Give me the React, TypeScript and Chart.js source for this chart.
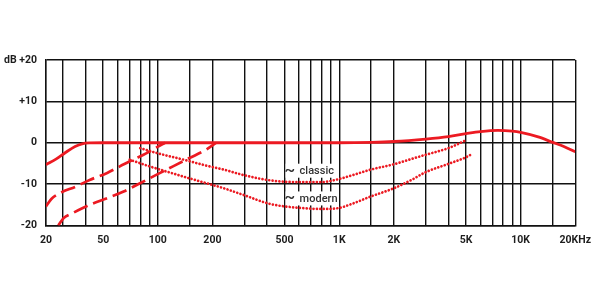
import React, { useEffect, useRef } from "react";
import { Chart, registerables } from "chart.js";

Chart.register(...registerables);

// ---- data (frequency in Hz, level in dB) ----
const solidFreq = [24.2, 27.6, 31, 35, 38.3, 42.2, 50, 1000, 1500, 2000, 3000, 4000, 5000, 6000, 7500, 9000, 10000, 12500, 15000, 17300, 20000];
const solidDb = [-5.3, -3.9, -2.35, -0.9, -0.25, -0.05, 0, 0, 0.1, 0.3, 0.9, 1.5, 2.2, 2.7, 3.0, 2.8, 2.5, 1.4, 0.1, -0.9, -2.2];

const cut1Freq = [24.2, 25.9, 28.8, 35.3, 42.1, 52.6, 61.8, 73.2, 86.8, 98.6, 109.6];
const cut1Db = [-15.4, -13.6, -12.2, -10.6, -9.0, -7.3, -5.7, -4.1, -2.5, -1.1, 0];

const cut2Freq = [28.3, 30.3, 34, 42.1, 52.6, 64.8, 79.8, 98.6, 121.3, 149.4, 184, 210];
const cut2Db = [-20, -18.2, -17, -15, -13.4, -11.8, -9.8, -7.7, -5.7, -3.7, -1.7, 0];

const classicFreq = [80, 99, 139, 184, 231, 296, 417, 588, 800, 950, 1170, 1490, 2000, 2600, 3000, 4000, 5000];
const classicDb = [-1.3, -2.5, -4.1, -5.5, -6.5, -7.8, -9.1, -9.5, -9.5, -9.0, -7.9, -6.5, -5.2, -3.7, -2.9, -1.3, 0.6];

const modernFreq = [70, 90, 139, 200, 231, 296, 417, 588, 800, 987, 1170, 1490, 2000, 2500, 3000, 4000, 5000, 5300];
const modernDb = [-4.1, -5.7, -8.2, -10.2, -11, -12.6, -14.8, -15.7, -16, -15.8, -14.8, -13, -11, -9, -7.1, -5.1, -3.5, -2.9];

// ---- axes ----
const xMinHz = 24.2;
const xMaxHz = 20000;
const gridFreqs = [30, 40, 50, 60, 70, 80, 90, 100, 150, 200, 300, 400, 500, 600, 700, 800, 900, 1000, 1500, 2000, 3000, 4000, 5000, 6000, 7000, 8000, 9000, 10000, 15000, 20000];
const xTickValues = [24.2, 50, 100, 200, 500, 1000, 2000, 5000, 10000, 20000];
const xTickLabels = ["20", "50", "100", "200", "500", "1K", "2K", "5K", "10K", "20KHz"];
const yTickValues = [20, 10, 0, -10, -20];
const yTickLabels = ["+20", "+10", "0", "-10", "-20"];
const yUnit = "dB";

// curve labels: [text, freq anchor, dB anchor]
const curveLabels: [string, number, number][] = [
  ["classic", 605, -7.0],
  ["modern", 605, -13.7],
];

const RED = "#ec1a22";
const INK = "#1e1e1e";
const FONT = "Roboto";

const toPts = (f: number[], d: number[]) => f.map((x, i) => ({ x, y: d[i] }));

export default function App() {
  const ref = useRef<HTMLCanvasElement | null>(null);

  useEffect(() => {
    if (!ref.current) return;
    const labelPlugin = {
      id: "curveLabels",
      beforeDatasetsDraw(chart: any) {
        const { ctx, scales } = chart;
        const xs = scales.x;
        const ys = scales.y;
        ctx.save();
        for (const [text, f, db] of curveLabels) {
          const x = xs.getPixelForValue(f);
          const y = ys.getPixelForValue(db);
          ctx.fillStyle = "#ffffff";
          ctx.fillRect(x - 14, y - 8, 48, 14);
          ctx.fillStyle = "#333333";
          ctx.textBaseline = "middle";
          ctx.textAlign = "left";
          ctx.font = `500 11px ${FONT}`;
          ctx.fillText(text, x, y);
          ctx.font = `500 16px ${FONT}`;
          ctx.fillText("~", x - 15, y - 1);
        }
        ctx.restore();
      },
      afterDraw(chart: any) {
        const { ctx, scales } = chart;
        const y = scales.y.getPixelForValue(20);
        ctx.save();
        ctx.fillStyle = INK;
        ctx.font = `bold 10.5px ${FONT}`;
        ctx.textBaseline = "middle";
        ctx.textAlign = "left";
        ctx.fillText(yUnit, 4, y);
        ctx.restore();
      },
    };

    const line = (data: any, extra: any) => ({
      data,
      borderColor: RED,
      backgroundColor: RED,
      pointRadius: 0,
      fill: false,
      cubicInterpolationMode: "monotone",
      ...extra,
    });

    const chart = new Chart(ref.current, {
      type: "line",
      data: {
        datasets: [
          line(toPts(solidFreq, solidDb), { borderWidth: 2.8 }),
          line(toPts(cut1Freq, cut1Db), { borderWidth: 2.7, borderDash: [15, 6] }),
          line(toPts(cut2Freq, cut2Db), { borderWidth: 2.7, borderDash: [15, 6] }),
          line(toPts(classicFreq, classicDb), { borderWidth: 2.7, borderDash: [0.01, 3.4], borderCapStyle: "round" }),
          line(toPts(modernFreq, modernDb), { borderWidth: 2.7, borderDash: [0.01, 3.4], borderCapStyle: "round" }),
        ] as any,
      },
      options: {
        animation: false,
        responsive: false,
        events: [],
        layout: { padding: { left: 0, right: 24, top: 60, bottom: 44.5 } },
        plugins: { legend: { display: false }, tooltip: { enabled: false } },
        scales: {
          x: {
            type: "logarithmic",
            min: xMinHz,
            max: xMaxHz,
            afterBuildTicks: (scale: any) => {
              const vals = Array.from(new Set([...xTickValues, ...gridFreqs])).sort((a, b) => a - b);
              scale.ticks = vals.map((v) => ({ value: v }));
            },
            afterFit: (scale: any) => {
              scale.height = 30;
            },
            grid: { color: "#111111", lineWidth: 1.4, drawTicks: false },
            border: { color: "#111111", width: 1.4 },
            ticks: {
              autoSkip: false,
              maxRotation: 0,
              minRotation: 0,
              padding: 9,
              color: INK,
              font: { family: FONT, size: 10.5, weight: "bold" },
              callback: (v: any) => {
                const i = xTickValues.indexOf(Number(v));
                return i >= 0 ? xTickLabels[i] : "";
              },
            },
          },
          y: {
            type: "linear",
            min: -20,
            max: 20,
            afterFit: (scale: any) => {
              scale.width = 46;
            },
            grid: { color: "#111111", lineWidth: 1.4, drawTicks: false },
            border: { color: "#111111", width: 1.4 },
            ticks: {
              stepSize: 10,
              padding: 9,
              color: INK,
              font: { family: FONT, size: 10.5, weight: "bold" },
              callback: (v: any) => {
                const i = yTickValues.indexOf(Number(v));
                return i >= 0 ? yTickLabels[i] : "";
              },
            },
          },
        },
      } as any,
      plugins: [labelPlugin],
    });
    return () => chart.destroy();
  }, []);

  return (
    <div style={{ position: "fixed", left: 0, top: 0, width: 600, height: 300, background: "#ffffff" }}>
      <canvas ref={ref} width={600} height={300} />
    </div>
  );
}
